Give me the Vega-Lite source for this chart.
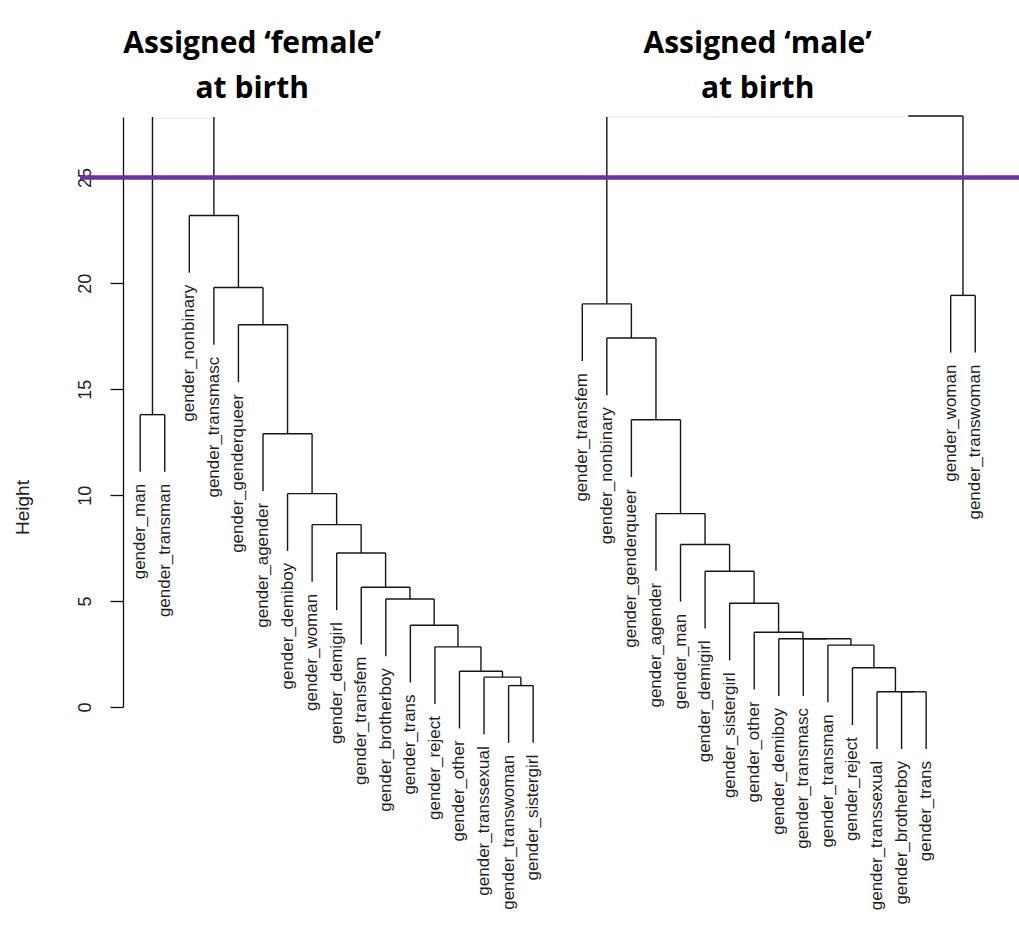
{
  "$schema": "https://vega.github.io/schema/vega-lite/v6.json",
  "autosize": {"type": "none"},
  "padding": {"left": 123, "top": 117, "right": 2, "bottom": 230},
  "width": 894,
  "height": 590,
  "background": "white",
  "config": {"view": {"stroke": null}},
  "datasets": {
    "tree": [
      {"x0": 1, "x1": 2, "h0": 13.8, "h1": 13.8},
      {"x0": 16, "x1": 17, "h0": 1.01, "h1": 1.01},
      {"x0": 15, "x1": 16.5, "h0": 1.41, "h1": 1.41},
      {"x0": 14, "x1": 15.75, "h0": 1.69, "h1": 1.69},
      {"x0": 13, "x1": 14.875, "h0": 2.84, "h1": 2.84},
      {"x0": 12, "x1": 13.938, "h0": 3.86, "h1": 3.86},
      {"x0": 11, "x1": 12.969, "h0": 5.1, "h1": 5.1},
      {"x0": 10, "x1": 11.984, "h0": 5.65, "h1": 5.65},
      {"x0": 9, "x1": 10.992, "h0": 7.27, "h1": 7.27},
      {"x0": 8, "x1": 9.996, "h0": 8.61, "h1": 8.61},
      {"x0": 7, "x1": 8.998, "h0": 10.07, "h1": 10.07},
      {"x0": 6, "x1": 7.999, "h0": 12.9, "h1": 12.9},
      {"x0": 5, "x1": 7.0, "h0": 18.04, "h1": 18.04},
      {"x0": 4, "x1": 6.0, "h0": 19.8, "h1": 19.8},
      {"x0": 3, "x1": 5.0, "h0": 23.2, "h1": 23.2},
      {"x0": 1, "x1": 1, "h0": 11.1, "h1": 13.8},
      {"x0": 2, "x1": 2, "h0": 11.1, "h1": 13.8},
      {"x0": 3, "x1": 3, "h0": 20.5, "h1": 23.2},
      {"x0": 4, "x1": 4, "h0": 17.1, "h1": 19.8},
      {"x0": 5, "x1": 5, "h0": 15.34, "h1": 18.04},
      {"x0": 6, "x1": 6, "h0": 10.2, "h1": 12.9},
      {"x0": 7, "x1": 7, "h0": 7.37, "h1": 10.07},
      {"x0": 8, "x1": 8, "h0": 5.91, "h1": 8.61},
      {"x0": 9, "x1": 9, "h0": 4.57, "h1": 7.27},
      {"x0": 10, "x1": 10, "h0": 2.95, "h1": 5.65},
      {"x0": 11, "x1": 11, "h0": 2.4, "h1": 5.1},
      {"x0": 12, "x1": 12, "h0": 1.16, "h1": 3.86},
      {"x0": 13, "x1": 13, "h0": 0.14, "h1": 2.84},
      {"x0": 14, "x1": 14, "h0": -1.01, "h1": 1.69},
      {"x0": 15, "x1": 15, "h0": -1.29, "h1": 1.41},
      {"x0": 16, "x1": 16, "h0": -1.69, "h1": 1.01},
      {"x0": 17, "x1": 17, "h0": -1.69, "h1": 1.01},
      {"x0": 16.5, "x1": 16.5, "h0": 1.01, "h1": 1.41},
      {"x0": 15.75, "x1": 15.75, "h0": 1.41, "h1": 1.69},
      {"x0": 14.875, "x1": 14.875, "h0": 1.69, "h1": 2.84},
      {"x0": 13.938, "x1": 13.938, "h0": 2.84, "h1": 3.86},
      {"x0": 12.969, "x1": 12.969, "h0": 3.86, "h1": 5.1},
      {"x0": 11.984, "x1": 11.984, "h0": 5.1, "h1": 5.65},
      {"x0": 10.992, "x1": 10.992, "h0": 5.65, "h1": 7.27},
      {"x0": 9.996, "x1": 9.996, "h0": 7.27, "h1": 8.61},
      {"x0": 8.998, "x1": 8.998, "h0": 8.61, "h1": 10.07},
      {"x0": 7.999, "x1": 7.999, "h0": 10.07, "h1": 12.9},
      {"x0": 7.0, "x1": 7.0, "h0": 12.9, "h1": 18.04},
      {"x0": 6.0, "x1": 6.0, "h0": 18.04, "h1": 19.8},
      {"x0": 5.0, "x1": 5.0, "h0": 19.8, "h1": 23.2},
      {"x0": 4.0, "x1": 4.0, "h0": 23.2, "h1": 27.85},
      {"x0": 1.5, "x1": 1.5, "h0": 13.8, "h1": 27.85},
      {"x0": 32, "x1": 33, "h0": 0.72, "h1": 0.72},
      {"x0": 31, "x1": 32.5, "h0": 0.72, "h1": 0.72},
      {"x0": 30, "x1": 31.75, "h0": 1.85, "h1": 1.85},
      {"x0": 29, "x1": 30.875, "h0": 2.92, "h1": 2.92},
      {"x0": 28, "x1": 29.938, "h0": 3.22, "h1": 3.22},
      {"x0": 27, "x1": 28.969, "h0": 3.22, "h1": 3.22},
      {"x0": 26, "x1": 27.984, "h0": 3.53, "h1": 3.53},
      {"x0": 25, "x1": 26.992, "h0": 4.9, "h1": 4.9},
      {"x0": 24, "x1": 25.996, "h0": 6.41, "h1": 6.41},
      {"x0": 23, "x1": 24.998, "h0": 7.67, "h1": 7.67},
      {"x0": 22, "x1": 23.999, "h0": 9.13, "h1": 9.13},
      {"x0": 21, "x1": 23.0, "h0": 13.56, "h1": 13.56},
      {"x0": 20, "x1": 22.0, "h0": 17.42, "h1": 17.42},
      {"x0": 19, "x1": 21.0, "h0": 19.03, "h1": 19.03},
      {"x0": 34, "x1": 35, "h0": 19.43, "h1": 19.43},
      {"x0": 32.27, "x1": 34.5, "h0": 27.9, "h1": 27.9},
      {"x0": 19, "x1": 19, "h0": 16.33, "h1": 19.03},
      {"x0": 20, "x1": 20, "h0": 14.72, "h1": 17.42},
      {"x0": 21, "x1": 21, "h0": 10.86, "h1": 13.56},
      {"x0": 22, "x1": 22, "h0": 6.43, "h1": 9.13},
      {"x0": 23, "x1": 23, "h0": 4.97, "h1": 7.67},
      {"x0": 24, "x1": 24, "h0": 3.71, "h1": 6.41},
      {"x0": 25, "x1": 25, "h0": 2.2, "h1": 4.9},
      {"x0": 26, "x1": 26, "h0": 0.83, "h1": 3.53},
      {"x0": 27, "x1": 27, "h0": 0.52, "h1": 3.22},
      {"x0": 28, "x1": 28, "h0": 0.52, "h1": 3.22},
      {"x0": 29, "x1": 29, "h0": 0.22, "h1": 2.92},
      {"x0": 30, "x1": 30, "h0": -0.85, "h1": 1.85},
      {"x0": 31, "x1": 31, "h0": -1.98, "h1": 0.72},
      {"x0": 32, "x1": 32, "h0": -1.98, "h1": 0.72},
      {"x0": 33, "x1": 33, "h0": -1.98, "h1": 0.72},
      {"x0": 34, "x1": 34, "h0": 16.73, "h1": 19.43},
      {"x0": 35, "x1": 35, "h0": 16.73, "h1": 19.43},
      {"x0": 31.75, "x1": 31.75, "h0": 0.72, "h1": 1.85},
      {"x0": 30.875, "x1": 30.875, "h0": 1.85, "h1": 2.92},
      {"x0": 29.938, "x1": 29.938, "h0": 2.92, "h1": 3.22},
      {"x0": 27.984, "x1": 27.984, "h0": 3.22, "h1": 3.53},
      {"x0": 26.992, "x1": 26.992, "h0": 3.53, "h1": 4.9},
      {"x0": 25.996, "x1": 25.996, "h0": 4.9, "h1": 6.41},
      {"x0": 24.998, "x1": 24.998, "h0": 6.41, "h1": 7.67},
      {"x0": 23.999, "x1": 23.999, "h0": 7.67, "h1": 9.13},
      {"x0": 23.0, "x1": 23.0, "h0": 9.13, "h1": 13.56},
      {"x0": 22.0, "x1": 22.0, "h0": 13.56, "h1": 17.42},
      {"x0": 21.0, "x1": 21.0, "h0": 17.42, "h1": 19.03},
      {"x0": 20.0, "x1": 20.0, "h0": 19.03, "h1": 27.85},
      {"x0": 34.5, "x1": 34.5, "h0": 19.43, "h1": 27.9}
    ],
    "edge": [
      {"x0": 1.5, "x1": 4.0, "h0": 27.8, "h1": 27.8},
      {"x0": 20.0, "x1": 32.27, "h0": 27.86, "h1": 27.86}
    ],
    "leaves": [
      {"label": "gender_man", "pos": 1, "end": 11.1},
      {"label": "gender_transman", "pos": 2, "end": 11.1},
      {"label": "gender_nonbinary", "pos": 3, "end": 20.5},
      {"label": "gender_transmasc", "pos": 4, "end": 17.1},
      {"label": "gender_genderqueer", "pos": 5, "end": 15.34},
      {"label": "gender_agender", "pos": 6, "end": 10.2},
      {"label": "gender_demiboy", "pos": 7, "end": 7.37},
      {"label": "gender_woman", "pos": 8, "end": 5.91},
      {"label": "gender_demigirl", "pos": 9, "end": 4.57},
      {"label": "gender_transfem", "pos": 10, "end": 2.95},
      {"label": "gender_brotherboy", "pos": 11, "end": 2.4},
      {"label": "gender_trans", "pos": 12, "end": 1.16},
      {"label": "gender_reject", "pos": 13, "end": 0.14},
      {"label": "gender_other", "pos": 14, "end": -1.01},
      {"label": "gender_transsexual", "pos": 15, "end": -1.29},
      {"label": "gender_transwoman", "pos": 16, "end": -1.69},
      {"label": "gender_sistergirl", "pos": 17, "end": -1.69},
      {"label": "gender_transfem", "pos": 19, "end": 16.33},
      {"label": "gender_nonbinary", "pos": 20, "end": 14.72},
      {"label": "gender_genderqueer", "pos": 21, "end": 10.86},
      {"label": "gender_agender", "pos": 22, "end": 6.43},
      {"label": "gender_man", "pos": 23, "end": 4.97},
      {"label": "gender_demigirl", "pos": 24, "end": 3.71},
      {"label": "gender_sistergirl", "pos": 25, "end": 2.2},
      {"label": "gender_other", "pos": 26, "end": 0.83},
      {"label": "gender_demiboy", "pos": 27, "end": 0.52},
      {"label": "gender_transmasc", "pos": 28, "end": 0.52},
      {"label": "gender_transman", "pos": 29, "end": 0.22},
      {"label": "gender_reject", "pos": 30, "end": -0.85},
      {"label": "gender_transsexual", "pos": 31, "end": -1.98},
      {"label": "gender_brotherboy", "pos": 32, "end": -1.98},
      {"label": "gender_trans", "pos": 33, "end": -1.98},
      {"label": "gender_woman", "pos": 34, "end": 16.73},
      {"label": "gender_transwoman", "pos": 35, "end": 16.73}
    ]
  },
  "layer": [
    {
      "data": {"name": "edge"},
      "mark": {"type": "rule", "color": "#e6e6e6", "strokeWidth": 1},
      "encoding": {
        "x": {"field": "x0", "type": "quantitative", "scale": {"domain": [0.3, 36.7], "nice": false, "zero": false}, "axis": null},
        "x2": {"field": "x1"},
        "y": {"field": "h0", "type": "quantitative", "scale": {"domain": [0, 27.85], "nice": false, "zero": false},
          "axis": {
            "title": "Height", "values": [0, 5, 10, 15, 20, 25], "grid": false,
            "domainColor": "#111", "domainWidth": 1.3, "tickColor": "#111", "tickWidth": 1.3, "tickSize": 13,
            "labelAngle": 270, "labelAlign": "center", "labelBaseline": "alphabetic", "labelPadding": 20,
            "labelFont": "Liberation Sans", "labelFontSize": 18, "labelColor": "#222", "labelFlush": false,
            "titleFont": "Liberation Sans", "titleFontSize": 19, "titleFontWeight": "normal", "titleColor": "#222",
            "titleAngle": 270, "titleX": -101, "titleY": 390, "titleAlign": "center", "titleBaseline": "middle"
          }},
        "y2": {"field": "h1"}
      }
    },
    {
      "data": {"name": "tree"},
      "mark": {"type": "rule", "color": "#151515", "strokeWidth": 1.4},
      "encoding": {
        "x": {"field": "x0", "type": "quantitative"},
        "x2": {"field": "x1"},
        "y": {"field": "h0", "type": "quantitative"},
        "y2": {"field": "h1"}
      }
    },
    {
      "data": {"name": "leaves"},
      "mark": {"type": "text", "angle": 270, "align": "right", "baseline": "middle", "dx": -12, "font": "Liberation Sans", "fontSize": 17, "color": "#1e1e1e"},
      "encoding": {
        "x": {"field": "pos", "type": "quantitative"},
        "y": {"field": "end", "type": "quantitative"},
        "text": {"field": "label"}
      }
    },
    {
      "data": {"values": [{}]},
      "mark": {"type": "rule", "color": "#7030A0", "strokeWidth": 4.5},
      "encoding": {
        "y": {"datum": 25},
        "x": {"datum": -1.45},
        "x2": {"datum": 37}
      }
    },
    {
      "data": {"values": [{}]},
      "mark": {"type": "text", "text": ["Assigned ‘female’", "at birth"], "align": "center", "baseline": "alphabetic", "lineHeight": 45, "font": "Open Sans", "fontWeight": "bold", "fontSize": 30, "color": "#000"},
      "encoding": {
        "x": {"datum": 5.56},
        "y": {"datum": 30.87}
      }
    },
    {
      "data": {"values": [{}]},
      "mark": {"type": "text", "text": ["Assigned ‘male’", "at birth"], "align": "center", "baseline": "alphabetic", "lineHeight": 45, "font": "Open Sans", "fontWeight": "bold", "fontSize": 30, "color": "#000"},
      "encoding": {
        "x": {"datum": 26.14},
        "y": {"datum": 30.87}
      }
    }
  ]
}
